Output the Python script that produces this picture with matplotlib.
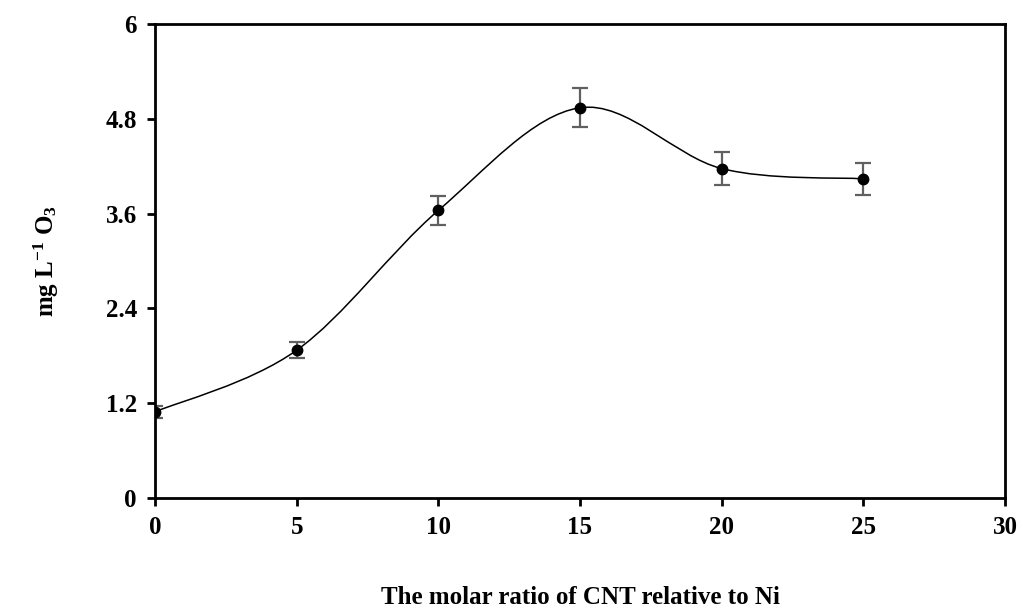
import numpy as np
import matplotlib.pyplot as plt
from matplotlib.path import Path
from matplotlib.patches import PathPatch

# molar ratio of CNT relative to Ni
ratio = np.array([0, 5, 10, 15, 20, 25])
ozone = np.array([1.09, 1.87, 3.64, 4.94, 4.17, 4.04])
err = np.array([0.08, 0.10, 0.18, 0.25, 0.21, 0.20])

plt.rcParams['font.family'] = ['Liberation Serif', 'DejaVu Serif']
plt.rcParams['font.weight'] = 'bold'
plt.rcParams['mathtext.fontset'] = 'custom'
plt.rcParams['mathtext.rm'] = 'Liberation Serif:bold'
plt.rcParams['mathtext.bf'] = 'Liberation Serif:bold'
plt.rcParams['mathtext.default'] = 'bf'

fig = plt.figure(figsize=(10.23, 6.08), dpi=100)
ax = fig.add_axes([0.1515, 0.181, 0.8309, 0.7795])

# Excel-style smoothed line (cubic Bezier segments)
pts = np.column_stack([ratio, ozone]).astype(float)
verts = [pts[0]]
codes = [Path.MOVETO]
n = len(pts)
for i in range(n - 1):
    p0 = pts[max(i - 1, 0)]
    p1 = pts[i]
    p2 = pts[i + 1]
    p3 = pts[min(i + 2, n - 1)]
    c1 = p1 + (p2 - p0) / 6
    c2 = p2 - (p3 - p1) / 6
    verts += [c1, c2, p2]
    codes += [Path.CURVE4] * 3
ax.add_patch(PathPatch(Path(verts, codes), facecolor='none', edgecolor='black', lw=1.1))

ax.errorbar(ratio, ozone, yerr=err, fmt='none', ecolor='#606060', elinewidth=1.6,
            capsize=6, capthick=1.6)
ax.plot(ratio, ozone, 'o', color='black', markersize=7.5, zorder=3)

ax.set_xlim(0, 30)
ax.set_ylim(0, 6)
ax.set_xticks(np.arange(0, 31, 5))
ax.set_yticks([0, 1.2, 2.4, 3.6, 4.8, 6])
ax.set_yticklabels(['0', '1.2', '2.4', '3.6', '4.8', '6'])
ax.tick_params(direction='out', length=6, width=2, labelsize=18, pad=7)
for s in ax.spines.values():
    s.set_linewidth(2)
ax.tick_params(top=False, right=False)

ax.set_xlabel('The molar ratio of CNT relative to Ni', fontsize=18, fontweight='bold', labelpad=33.5)
ax.set_ylabel(r'mg L$^{-1}$ O$_{3}$', fontsize=18, fontweight='bold', labelpad=32)

fig.savefig('out.png', dpi=100)
